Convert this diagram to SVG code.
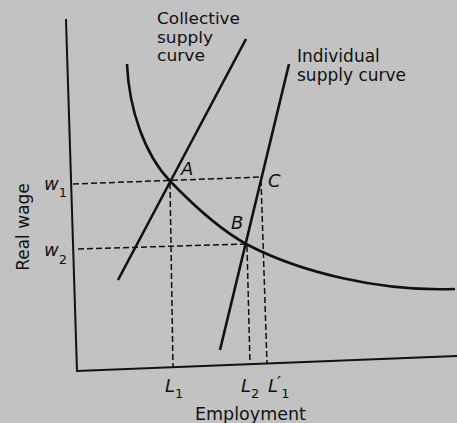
<svg xmlns="http://www.w3.org/2000/svg" width="457" height="423" viewBox="0 0 457 423">
<style>
.bg{fill:#c2c2c2}
.axis{stroke:#111;stroke-width:2;fill:none;stroke-linecap:square}
.curve{stroke:#111;stroke-width:2.6;fill:none}
.dash{stroke:#111;stroke-width:1.5;fill:none;stroke-dasharray:6 3}
text{font-family:"DejaVu Sans","Liberation Sans",sans-serif;fill:#111}
.lbl{font-size:17px}
.lbs{font-size:16px}
.it{font-size:18px;font-style:italic}
.sub{font-size:13px;font-style:normal}
</style>
<rect class="bg" x="0" y="0" width="457" height="423"/>
<g id="axes">
<line class="axis" x1="66" y1="20" x2="77" y2="371"/>
<line class="axis" x1="77" y1="371" x2="457" y2="356"/>
</g>
<g id="connectors">
<line id="collective" class="curve" x1="246" y1="39" x2="118" y2="280"/>
<line id="individual" class="curve" x1="289" y1="64" x2="220" y2="350"/>
<path id="demand" class="curve" d="M127,64 C129,110 145,155 170,181 C195,207 220,230 248,245 C300,272 380,292 455,289"/>
<line class="dash" x1="73" y1="184" x2="262" y2="177"/>
<line class="dash" x1="78" y1="249" x2="246" y2="244"/>
<line class="dash" x1="170" y1="183" x2="173" y2="368"/>
<line class="dash" x1="247" y1="246" x2="250" y2="364"/>
<line class="dash" x1="261" y1="180" x2="267" y2="364"/>
</g>
<g id="label-collective">
<text class="lbs" x="157" y="23.5" textLength="83" lengthAdjust="spacingAndGlyphs">Collective</text>
<text class="lbs" x="157" y="42.5" textLength="56" lengthAdjust="spacingAndGlyphs">supply</text>
<text class="lbs" x="157" y="61" textLength="48" lengthAdjust="spacingAndGlyphs">curve</text>
</g>
<g id="label-individual">
<text class="lbl"><tspan x="297" y="62">Individual</tspan><tspan x="297" y="80.5">supply curve</tspan></text>
</g>
<g id="point-A"><text class="it" x="181" y="175">A</text></g>
<g id="point-B"><text class="it" x="231" y="229">B</text></g>
<g id="point-C"><text class="it" x="268" y="187">C</text></g>
<g id="w1"><text class="it" x="44" y="190">w<tspan class="sub" dy="7">1</tspan></text></g>
<g id="w2"><text class="it" x="44" y="256">w<tspan class="sub" dy="8">2</tspan></text></g>
<g id="L1"><text class="it" x="165" y="392">L<tspan class="sub" dy="6">1</tspan></text></g>
<g id="L2"><text class="it" x="241" y="392">L<tspan class="sub" dy="6">2</tspan></text></g>
<g id="L1p"><text class="it" x="268" y="392">L<tspan dy="-3" dx="-1" style="font-style:normal">′</tspan><tspan class="sub" dy="9">1</tspan></text></g>
<g id="xlabel"><text class="lbl" x="195" y="420" style="font-size:17.5px">Employment</text></g>
<g id="ylabel"><text class="lbl" transform="translate(29,227) rotate(-90)" text-anchor="middle">Real wage</text></g>
</svg>
